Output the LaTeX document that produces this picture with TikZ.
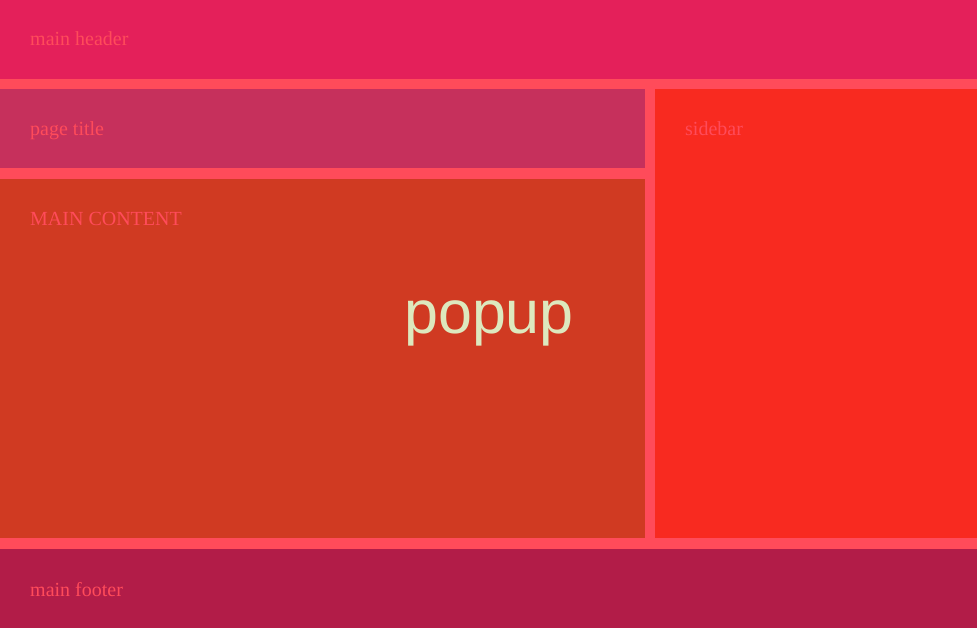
\documentclass[tikz,border=0pt]{standalone}
\usepackage{fontspec}
\setmainfont{Liberation Serif}
\newfontfamily\popfont{Liberation Sans}
\definecolor{gapc}{HTML}{FF4B5A}
\definecolor{headc}{HTML}{E4205A}
\definecolor{titlec}{HTML}{C6305C}
\definecolor{mainc}{HTML}{D03A22}
\definecolor{sidec}{HTML}{F82A20}
\definecolor{footc}{HTML}{B21C48}
\definecolor{labc}{HTML}{FF4B5A}
\definecolor{popc}{HTML}{DDE8BE}
\begin{document}
\begin{tikzpicture}[x=1pt,y=-1pt,
  lab/.style={anchor=base west, inner sep=0pt, text=labc, font=\fontsize{20}{24}\selectfont}]
\useasboundingbox (0,0) rectangle (977,628);
\fill[gapc] (0,0) rectangle (977,628);
\fill[headc] (0,0) rectangle (977,79);
\fill[titlec] (0,89) rectangle (645,168);
\fill[mainc] (0,179) rectangle (645,538);
\fill[sidec] (655,89) rectangle (977,538);
\fill[footc] (0,549) rectangle (977,628);
\node[lab] (header) at (30,46) {main header};
\node[lab] (title) at (30,136) {page title};
\node[lab] (content) at (30,226) {MAIN CONTENT};
\node[lab] (sidebar) at (685,136) {sidebar};
\node[lab] (footer) at (30,596) {main footer};
\node[anchor=base west, inner sep=0pt, text=popc, font=\popfont\fontsize{61}{66}\selectfont] (popup) at (404,334) {popup};
\end{tikzpicture}
\end{document}
